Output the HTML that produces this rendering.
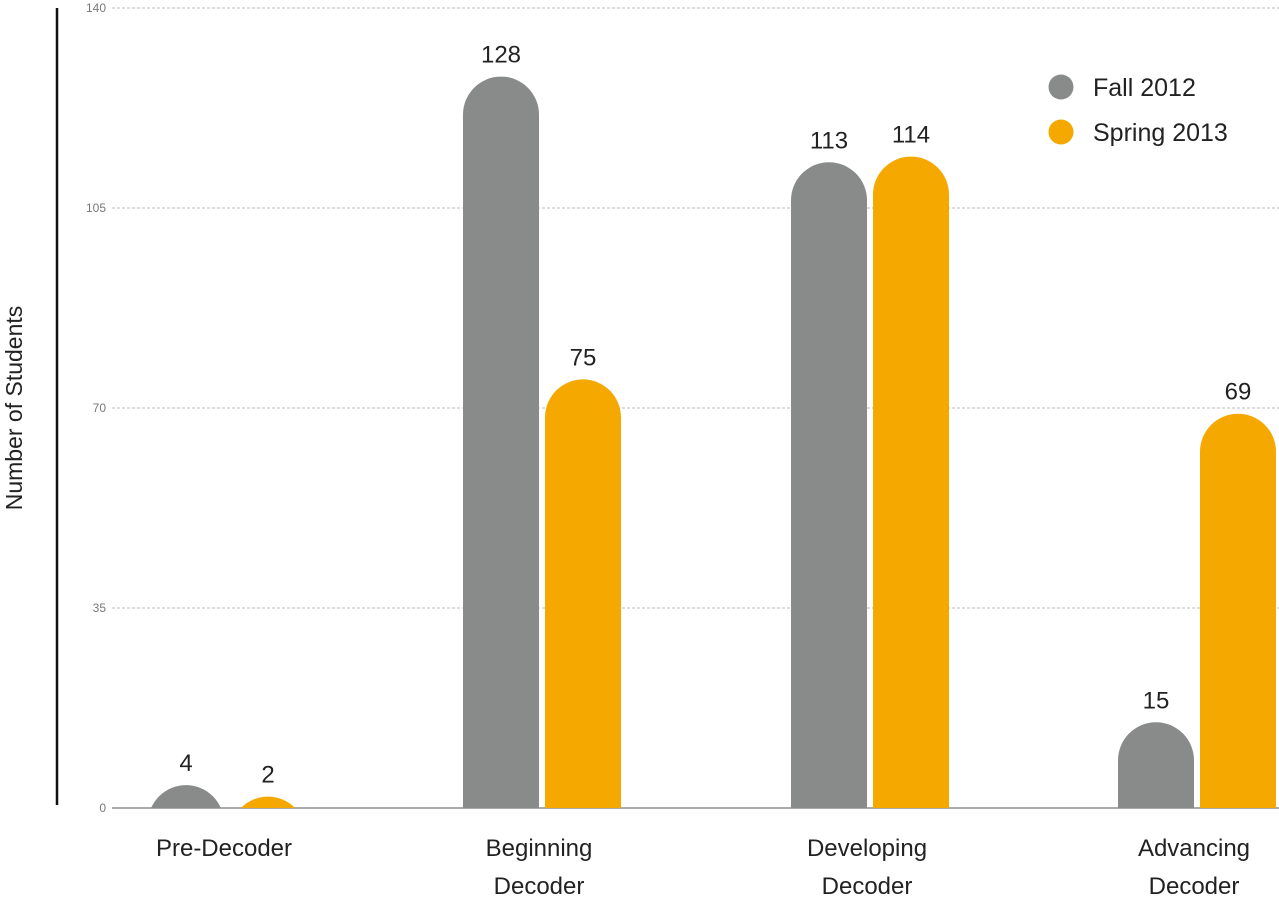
<!DOCTYPE html>
<html><head><meta charset="utf-8"><style>
body{margin:0;background:#fff}
svg{display:block;font-family:"Liberation Sans Narrow","Liberation Sans",sans-serif}
</style></head><body>
<svg id="chart" width="1279" height="900" viewBox="0 0 1279 900">
<line x1="57" y1="8" x2="57" y2="805" stroke="#111" stroke-width="2.5"/>
<text transform="translate(22,408) rotate(-90)" text-anchor="middle" font-size="23" fill="#222">Number of Students</text>
<g id="grid"></g><g id="bars"></g>
<g>
<circle cx="1061" cy="87" r="12.5" fill="#898b8b"/>
<text x="1093" y="96" font-size="25" fill="#222">Fall 2012</text>
<circle cx="1061" cy="132" r="12.5" fill="#f5a800"/>
<text x="1093" y="141" font-size="25" fill="#222">Spring 2013</text>
</g>
</svg>
<script>
const categories=[["Pre-Decoder"],["Beginning","Decoder"],["Developing","Decoder"],["Advancing","Decoder"]];
const fall2012=[4,128,113,15];
const spring2013=[2,75,114,69];
const yTicks=[0,35,70,105,140];
const NS="http://www.w3.org/2000/svg";
const y0=808,yTop=8,yMax=140;
const y=v=>y0-(y0-yTop)*v/yMax;
const groupCenters=[227,542,870,1197];
const bw=76,r=38;
const grid=document.getElementById('grid'),bars=document.getElementById('bars');
function mk(tag,attrs,parent){const e=document.createElementNS(NS,tag);for(const k in attrs)e.setAttribute(k,attrs[k]);parent.appendChild(e);return e;}
yTicks.forEach(t=>{
  const l=mk('line',{x1:112,x2:1279,y1:y(t),y2:y(t),stroke:t===0?'#aaa':'#bbb','stroke-width':t===0?2:1,'stroke-dasharray':t===0?'':'3,2'},grid);
  
  
  const tx=mk('text',{x:106,y:y(t)+4,'text-anchor':'end','font-size':12,fill:'#777'},grid);
  tx.textContent=t;
  
  
});
mk('defs',{},bars).innerHTML='<clipPath id="cp"><rect x="0" y="0" width="1279" height="'+y0+'"/></clipPath>';
function bar(cx,v,color,name){
  const top=y(v),x=cx-bw/2;
  const d=`M${x},${Math.max(y0,top+r)} L${x},${top+r} A${r},${r} 0 0 1 ${x+bw},${top+r} L${x+bw},${Math.max(y0,top+r)} Z`;
  const p=mk('path',{d:d,fill:color,'clip-path':'url(#cp)'},bars);
  
  
  const t=mk('text',{x:cx,y:top-14,'text-anchor':'middle','font-size':24,fill:'#222'},bars);
  t.textContent=v;
  
  
}
categories.forEach((c,i)=>{
  const gc=groupCenters[i];
  bar(gc-41,fall2012[i],'#898b8b','bar-fall-'+i);
  bar(gc+41,spring2013[i],'#f5a800','bar-spring-'+i);
  const t=mk('text',{x:gc-3,'text-anchor':'middle','font-size':24,fill:'#222'},bars);
  c.forEach((line,j)=>{const s=mk('tspan',{x:gc-3,y:856+j*38},t);s.textContent=line;});
  
  
});
</script>
</body></html>
